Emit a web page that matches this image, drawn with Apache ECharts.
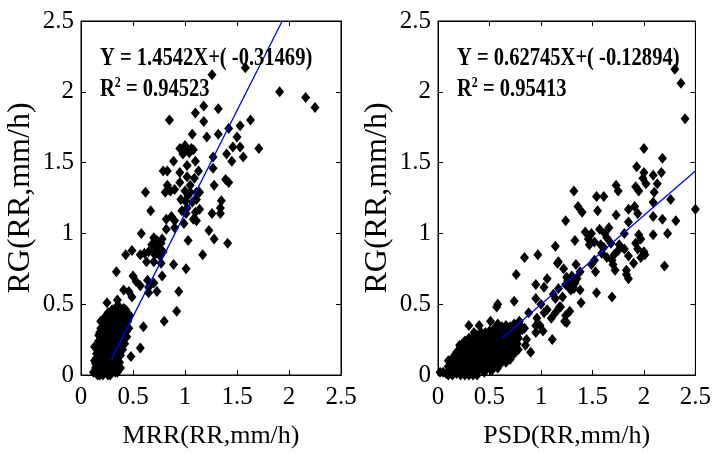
<!DOCTYPE html>
<html><head><meta charset="utf-8">
<script src="https://cdn.jsdelivr.net/npm/echarts@6/dist/echarts.min.js"></script>
<style>html,body{margin:0;padding:0;background:#fff}#c{width:714px;height:454px}</style>
</head><body><div id="c"></div>
<script>
const axisMin = 0, axisMax = 2.5, axisStep = 0.5;
const xNames = ['MRR(RR,mm/h)', 'PSD(RR,mm/h)'];
const yName = 'RG(RR,mm/h)';
const mrrEquation = 'Y = 1.4542X+( -0.31469)';
const mrrR2 = '0.94523';
const psdEquation = 'Y = 0.62745X+( -0.12894)';
const psdR2 = '0.95413';

const mrrFit = [[0.29, 0.107], [1.935, 2.5]];
const psdFit = [[0.62, 0.260], [2.5, 1.440]];

const mrrPoints = [
[1.26,2.12],[1.58,2.17],[1.91,2.00],[2.16,1.96],[2.25,1.89],[0.85,1.80],[1.18,1.90],[1.10,1.85],[1.32,1.88],[1.18,1.79],[1.63,1.80],[1.53,1.76],[1.07,1.70],[1.21,1.68],[1.32,1.70],[1.42,1.74],[1.50,1.68],
[0.95,1.60],[1.00,1.62],[1.03,1.58],[1.06,1.60],[0.98,1.56],[1.04,1.57],[1.08,1.59],
[0.89,1.51],[0.79,1.44],[0.83,1.44],[0.95,1.43],[1.02,1.48],[1.10,1.51],[1.13,1.44],[1.27,1.54],[1.40,1.56],[1.46,1.61],[1.53,1.61],[1.56,1.54],[1.71,1.60],[1.45,1.51],[1.27,1.46],
[0.83,1.34],[0.86,1.30],[0.95,1.36],[1.02,1.40],[1.05,1.34],[1.09,1.39],[1.28,1.34],[1.39,1.38],[1.42,1.36],[1.05,1.29],[1.11,1.29],
[1.00,1.23],[1.03,1.27],[1.07,1.22],[1.02,1.18],[0.96,1.24],[1.00,1.30],[0.97,1.16],[1.11,1.24],[1.14,1.29],[1.14,1.17],[1.10,1.15],[1.01,1.14],
[0.81,1.29],[0.84,1.31],[0.90,1.31],[0.62,1.29],[0.67,1.16],[0.82,1.10],[0.87,1.12],[0.90,1.09],[0.99,1.07],[1.08,1.10],[1.11,1.09],[1.26,1.14],[1.34,1.14],[1.34,1.18],[1.35,1.23],[1.23,1.02],[1.28,0.96],[1.41,0.93],[1.17,0.85],[1.03,0.95],[0.90,1.04],[0.82,1.03],[0.58,1.00],
[0.70,0.97],[0.73,0.95],[0.68,0.92],[0.74,0.90],[0.79,0.87],[0.76,0.84],[0.71,0.85],[0.65,0.87],[0.77,0.93],[0.72,0.88],[0.78,0.96],
[0.57,0.85],[0.61,0.86],[0.63,0.80],[0.70,0.80],[0.43,0.85],[0.49,0.88],[0.77,0.79],[0.78,0.70],[0.89,0.78],[1.01,0.75],[0.34,0.73],[0.50,0.70],[0.53,0.66],[0.57,0.63],[0.64,0.67],[0.65,0.62],[0.70,0.65],[0.65,0.58],[0.73,0.59],[0.41,0.60],[0.46,0.59],[0.49,0.55],[0.35,0.53],[0.37,0.48],[0.94,0.59],[0.92,0.45],[0.80,0.38],[0.60,0.34],[0.25,0.51],
[0.26,0.44],[0.32,0.45],[0.35,0.41],[0.40,0.40],[0.45,0.38],[0.44,0.44],[0.30,0.38],[0.38,0.36],[0.42,0.34],[0.34,0.48],[0.29,0.35],[0.36,0.43],[0.41,0.47],
[0.19,0.38],[0.21,0.34],[0.18,0.30],[0.57,0.19],[0.48,0.13],
[0.24,0.29],[0.29,0.26],[0.32,0.24],[0.38,0.26],[0.35,0.21],[0.24,0.22],[0.21,0.17],[0.30,0.17],[0.27,0.12],[0.13,0.20],[0.15,0.15],[0.13,0.10],[0.18,0.08],[0.22,0.05],[0.27,0.04],[0.32,0.06],[0.38,0.05],[0.37,0.09],[0.19,0.03],[0.14,0.02],[0.24,0.02],[0.30,0.02],[0.16,0.00],[0.21,0.00],[0.26,0.00],[0.20,0.12],[0.25,0.15],[0.33,0.14],[0.17,0.24],[0.28,0.30],[0.23,0.09],[0.34,0.10],[0.19,0.19],[0.28,0.20],[0.40,0.18],[0.15,0.06],[0.35,0.02],[0.31,0.32],[0.22,0.27],[0.26,0.07],
[0.14,0.05],[0.16,0.10],[0.17,0.14],[0.18,0.18],[0.20,0.22],[0.22,0.14],[0.23,0.19],[0.25,0.24],[0.26,0.18],[0.27,0.27],[0.29,0.22],[0.30,0.29],[0.31,0.20],[0.32,0.28],[0.33,0.33],[0.34,0.26],[0.36,0.31],[0.37,0.35],[0.39,0.30],[0.40,0.38],[0.42,0.41],[0.43,0.36],[0.44,0.31],[0.38,0.41],[0.33,0.38],[0.29,0.41],[0.27,0.34],[0.24,0.35],[0.22,0.31],[0.20,0.27],[0.16,0.20],[0.20,0.07],[0.23,0.03],[0.28,0.08],[0.29,0.13],[0.31,0.10],[0.35,0.13],[0.36,0.17],[0.33,0.19],[0.18,0.00],[0.28,0.00],[0.33,0.02],[0.39,0.22],[0.41,0.26],[0.46,0.33],[0.47,0.42],[0.30,0.46],[0.23,0.41],[0.25,0.10],[0.17,0.04],[0.21,0.09],[0.26,0.14],[0.32,0.12],[0.15,0.12],[0.12,0.02],
[0.17,0.28],[0.19,0.33],[0.21,0.38],[0.24,0.40],[0.26,0.38],[0.28,0.44],[0.31,0.42],[0.34,0.36],[0.37,0.40],[0.39,0.44],[0.43,0.46],[0.45,0.42],[0.44,0.27],[0.42,0.22],[0.37,0.24],[0.31,0.36],[0.27,0.31],[0.22,0.24],[0.19,0.13],[0.24,0.12],[0.34,0.16],[0.38,0.14],[0.36,0.07],[0.30,0.07],[0.25,0.06],[0.16,0.16],[0.14,0.08]
];

const psdPoints = [
[2.30,2.16],[2.36,2.06],[2.40,1.81],[2.00,1.60],[2.18,1.53],[1.93,1.47],[2.00,1.43],[1.99,1.39],[2.09,1.41],[2.17,1.43],[2.13,1.35],[2.10,1.29],[1.92,1.33],[1.95,1.30],[2.02,1.35],[1.73,1.34],[1.75,1.30],[1.32,1.30],[1.54,1.26],[1.61,1.26],[1.55,1.16],[1.36,1.19],[1.40,1.15],[1.73,1.13],[1.85,1.17],[1.91,1.19],[1.94,1.14],[2.09,1.22],[2.26,1.24],[1.24,1.09],[2.18,1.10],[2.31,1.09],[2.09,1.12],[2.50,1.17],[2.23,1.00],[2.20,0.77],[1.85,1.08],
[1.57,1.03],[1.49,1.00],[1.62,1.00],[1.64,0.97],[1.46,0.96],[1.52,0.94],[1.58,0.92],[1.61,0.90],[1.68,0.93],[1.47,0.92],[1.43,1.01],[1.66,1.04],
[1.81,1.00],[1.95,0.99],[1.97,0.96],[1.92,0.93],[1.94,0.89],[1.76,0.92],[1.81,0.89],[2.09,0.99],[2.00,0.87],
[1.33,0.95],[1.14,0.91],[1.16,0.79],[1.59,0.86],[1.64,0.83],[1.71,0.85],[1.75,0.88],[1.69,0.81],[1.85,0.84],[1.90,0.79],[1.83,0.74],[1.97,0.83],[2.01,0.85],[1.70,0.78],[1.72,0.74],[1.49,0.78],[1.53,0.73],[1.83,0.71],[1.85,0.68],[1.52,0.81],
[1.17,0.80],[1.22,0.75],[1.25,0.69],[1.30,0.70],[1.24,0.64],[1.33,0.65],[1.27,0.62],[1.32,0.61],[1.38,0.60],[1.17,0.61],[1.34,0.78],[1.38,0.73],[1.39,0.51],[1.54,0.58],[1.69,0.55],
[1.28,0.66],[1.30,0.63],[1.31,0.68],[1.26,0.67],[1.35,0.68],[1.29,0.60],
[0.84,0.83],[0.97,0.85],[0.76,0.71],[0.58,0.50],[0.74,0.52],[0.95,0.64],[0.95,0.54],[1.06,0.68],[1.03,0.62],[1.00,0.50],[1.03,0.44],[1.10,0.40],[1.11,0.25],[1.14,0.54],[1.18,0.48],[1.24,0.42],[1.25,0.37],[1.21,0.55],[1.12,0.57],[1.28,0.45],
[0.88,0.44],[0.95,0.35],[0.84,0.33],[0.95,0.30],
[0.57,0.48],[0.30,0.35],[0.58,0.36],[0.51,0.38],[0.67,0.31],[0.74,0.36],[0.79,0.38],[0.82,0.32],[0.77,0.27],[0.72,0.27],[0.85,0.21],[0.86,0.25],[0.90,0.16],[0.96,0.40],[0.99,0.35],[1.02,0.31],[1.06,0.46],[1.14,0.44],[1.19,0.48],[1.23,0.38],[0.21,0.21],[0.30,0.26],
[0.05,0.02],[0.10,0.00],[0.02,0.02],[0.14,0.00],[0.18,0.01],[0.22,0.00],[0.26,0.00],[0.30,0.00],[0.34,0.00],[0.20,0.04],[0.24,0.05],[0.28,0.03],[0.32,0.05],[0.36,0.03],[0.40,0.06],[0.17,0.08],[0.22,0.10],[0.26,0.09],[0.30,0.12],[0.34,0.10],[0.38,0.12],[0.42,0.10],[0.46,0.12],[0.50,0.10],[0.25,0.15],[0.29,0.18],[0.33,0.16],[0.37,0.19],[0.41,0.16],[0.45,0.18],[0.49,0.16],[0.53,0.18],[0.57,0.15],[0.35,0.22],[0.39,0.25],[0.43,0.22],[0.47,0.24],[0.51,0.22],[0.55,0.25],[0.59,0.22],[0.63,0.20],[0.48,0.28],[0.52,0.29],[0.60,0.28],[0.66,0.26],[0.70,0.30],[0.74,0.31],[0.65,0.16],[0.60,0.12],[0.44,0.05],[0.53,0.07],[0.42,0.27],[0.55,0.33],[0.62,0.34],[0.71,0.23],[0.68,0.13],[0.12,0.05],[0.35,0.30],[0.27,0.22],[0.46,0.30],[0.40,0.35],[0.58,0.05],
[0.08,0.01],[0.12,0.02],[0.16,0.03],[0.19,0.06],[0.21,0.02],[0.23,0.08],[0.25,0.03],[0.27,0.06],[0.29,0.09],[0.31,0.03],[0.33,0.08],[0.35,0.06],[0.37,0.09],[0.39,0.03],[0.41,0.13],[0.43,0.07],[0.45,0.15],[0.47,0.09],[0.49,0.13],[0.51,0.17],[0.53,0.12],[0.55,0.20],[0.57,0.19],[0.59,0.16],[0.61,0.24],[0.63,0.27],[0.65,0.22],[0.67,0.19],[0.69,0.26],[0.72,0.32],[0.76,0.33],[0.78,0.30],[0.80,0.35],[0.73,0.20],[0.77,0.22],[0.62,0.09],[0.56,0.10],[0.52,0.03],[0.48,0.05],[0.40,0.20],[0.44,0.26],[0.36,0.14],[0.32,0.20],[0.28,0.12],[0.24,0.18],[0.20,0.14],[0.38,0.00],[0.30,0.06],[0.26,0.12],[0.34,0.24],[0.50,0.25],[0.54,0.28],[0.58,0.31],[0.64,0.30],[0.68,0.33],[0.70,0.16],[0.66,0.09],[0.45,0.02],[0.18,0.11],[0.15,0.06],
[0.10,0.06],[0.10,0.10],[0.14,0.08],[0.14,0.12],[0.18,0.13],[0.18,0.16],[0.22,0.16],[0.22,0.19],[0.26,0.20],[0.26,0.24],[0.30,0.21],[0.34,0.13],[0.34,0.18],[0.34,0.27],[0.38,0.16],[0.38,0.22],[0.38,0.28],[0.42,0.19],[0.42,0.30],[0.46,0.21],[0.46,0.27],[0.46,0.07],[0.50,0.06],[0.50,0.20],[0.50,0.31],[0.54,0.08],[0.54,0.15],[0.54,0.23],[0.58,0.09],[0.58,0.26],[0.58,0.34],[0.62,0.14],[0.62,0.18],[0.62,0.31],[0.66,0.12],[0.66,0.20],[0.66,0.35],[0.70,0.11],[0.70,0.20],[0.70,0.34],[0.74,0.15],[0.74,0.25],[0.74,0.28],[0.78,0.18],[0.78,0.26],[0.78,0.35]
];

const FONT = 'Liberation Serif';
const chart = echarts.init(document.getElementById('c'), null, {renderer: 'canvas'});

function xAx(gi, pos, name) {
  const bottom = pos === 'bottom';
  return {
    type: 'value', gridIndex: gi, position: pos, min: axisMin, max: axisMax, interval: axisStep,
    axisLine: {show: true, onZero: false, lineStyle: {color: '#000', width: 1}},
    axisTick: {show: true, inside: true, length: 5, lineStyle: {color: '#000', width: 1}},
    axisLabel: {show: bottom, color: '#000', fontFamily: FONT, fontSize: 25, margin: 10},
    splitLine: {show: false},
    name: bottom ? name : '', nameLocation: 'middle', nameGap: 48,
    nameTextStyle: {color: '#000', fontFamily: FONT, fontSize: 26}
  };
}
function yAx(gi, pos) {
  const left = pos === 'left';
  return {
    type: 'value', gridIndex: gi, position: pos, min: axisMin, max: axisMax, interval: axisStep,
    axisLine: {show: true, onZero: false, lineStyle: {color: '#000', width: 1}},
    axisTick: {show: true, inside: true, length: 5, lineStyle: {color: '#000', width: 1}},
    axisLabel: {show: left, color: '#000', fontFamily: FONT, fontSize: 25, margin: 7},
    splitLine: {show: false},
    name: left ? yName : '', nameLocation: 'middle', nameGap: 44,
    nameTextStyle: {color: '#000', fontFamily: FONT, fontSize: 32}
  };
}
function scatter(i, pts) {
  return {type: 'scatter', xAxisIndex: 2 * i, yAxisIndex: 2 * i, data: pts,
    symbol: 'diamond', symbolSize: [9, 11], itemStyle: {color: '#000', opacity: 1}, z: 2, silent: true, animation: false,
    large: false, progressive: 0};
}
function fit(i, pts) {
  return {type: 'line', xAxisIndex: 2 * i, yAxisIndex: 2 * i, data: pts, showSymbol: false, symbol: 'none',
    lineStyle: {color: '#0000ff', width: 1.3}, z: 3, clip: true, silent: true, animation: false};
}
function eqText(x, y, s) {
  return {type: 'text', x: x, y: y, scaleX: 0.79, z: 10,
    style: {text: s, fill: '#000', font: 'bold 26px "' + FONT + '"', verticalAlign: 'middle', align: 'left'}};
}
function r2Text(x, y, v) {
  return {type: 'text', x: x, y: y, scaleX: 0.79, z: 10,
    style: {text: '{a|R}{s|2}{a| = ' + v + '}', verticalAlign: 'middle', align: 'left',
      rich: {a: {fontSize: 26, fontWeight: 'bold', fontFamily: FONT, fill: '#000', color: '#000'},
             s: {fontSize: 15, fontWeight: 'bold', fontFamily: FONT, fill: '#000', color: '#000', verticalAlign: 'top'}}}};
}

chart.setOption({
  backgroundColor: '#fff',
  animation: false,
  grid: [
    {left: 81, top: 21, width: 260, height: 356, show: true, borderColor: '#000', borderWidth: 1, containLabel: false},
    {left: 438, top: 21, width: 260, height: 356, show: true, borderColor: '#000', borderWidth: 1, containLabel: false}
  ],
  xAxis: [xAx(0, 'bottom', xNames[0]), xAx(0, 'top', ''), xAx(1, 'bottom', xNames[1]), xAx(1, 'top', '')],
  yAxis: [yAx(0, 'left'), yAx(0, 'right'), yAx(1, 'left'), yAx(1, 'right')],
  series: [scatter(0, mrrPoints), fit(0, mrrFit), scatter(1, psdPoints), fit(1, psdFit)],
  graphic: [
    eqText(100, 58, mrrEquation), r2Text(100, 89, mrrR2),
    eqText(457, 58, psdEquation), r2Text(457, 89, psdR2)
  ]
});
</script></body></html>
